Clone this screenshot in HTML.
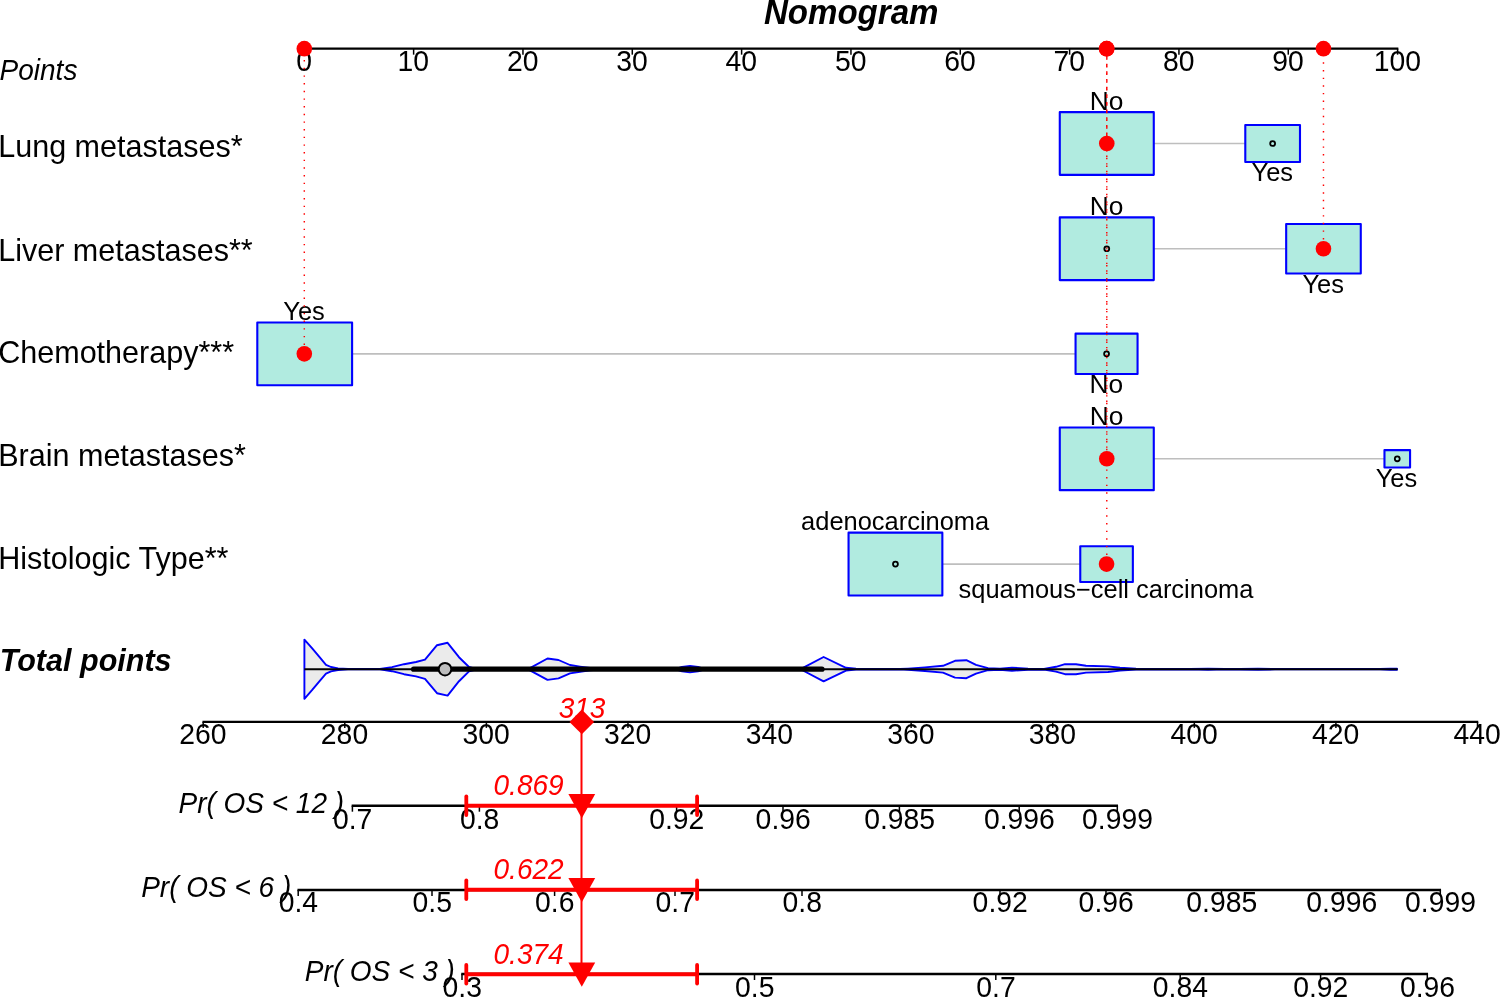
<!DOCTYPE html>
<html lang="en">
<head>
<meta charset="utf-8">
<title>Nomogram</title>
<style>
html,body{margin:0;padding:0;background:#fff;}
body{width:1500px;height:997px;overflow:hidden;font-family:"Liberation Sans", sans-serif;}
svg{display:block;will-change:transform;font-family:"Liberation Sans", sans-serif;}
svg text{font-family:"Liberation Sans", sans-serif;}
</style>
</head>
<body>
<svg width="1500" height="997" viewBox="0 0 1500 997">
<rect x="0" y="0" width="1500" height="997" fill="#ffffff"/>
<text transform="translate(851.20,24.00) rotate(0.02) scale(1.0,1.04)" font-size="33.09" text-anchor="middle" font-style="italic" font-weight="bold" fill="#000">Nomogram</text>
<text transform="translate(-0.40,79.70) rotate(0.02) scale(1.0,1.03)" font-size="28.0" text-anchor="start" font-style="italic" fill="#000">Points</text>
<text transform="translate(-1.80,156.70) rotate(0.02) scale(1.0,1.0)" font-size="30.54" text-anchor="start" fill="#000">Lung metastases*</text>
<text transform="translate(-1.80,260.70) rotate(0.02) scale(1.0,1.0)" font-size="30.54" text-anchor="start" fill="#000">Liver metastases**</text>
<text transform="translate(-1.80,363.40) rotate(0.02) scale(1.0,1.0)" font-size="30.54" text-anchor="start" fill="#000">Chemotherapy***</text>
<text transform="translate(-1.80,465.70) rotate(0.02) scale(1.0,1.0)" font-size="30.54" text-anchor="start" fill="#000">Brain metastases*</text>
<text transform="translate(-1.80,568.80) rotate(0.02) scale(1.0,1.0)" font-size="30.54" text-anchor="start" fill="#000">Histologic Type**</text>
<text transform="translate(-0.30,671.10) rotate(0.02) scale(1.0,1.0)" font-size="30.54" text-anchor="start" font-style="italic" font-weight="bold" fill="#000">Total points</text>
<line x1="303.55" y1="48.67" x2="1398.35" y2="48.67" stroke="#000" stroke-width="2.4" />
<line x1="304.30" y1="48.67" x2="304.30" y2="54.67" stroke="#000" stroke-width="1.5" />
<text transform="translate(304.00,71.22) rotate(0.02) scale(1.012,1.045)" font-size="28.0" text-anchor="middle" fill="#000">0</text>
<line x1="413.63" y1="48.67" x2="413.63" y2="54.67" stroke="#000" stroke-width="1.5" />
<text transform="translate(413.33,71.22) rotate(0.02) scale(1.012,1.045)" font-size="28.0" text-anchor="middle" fill="#000">10</text>
<line x1="522.96" y1="48.67" x2="522.96" y2="54.67" stroke="#000" stroke-width="1.5" />
<text transform="translate(522.66,71.22) rotate(0.02) scale(1.012,1.045)" font-size="28.0" text-anchor="middle" fill="#000">20</text>
<line x1="632.29" y1="48.67" x2="632.29" y2="54.67" stroke="#000" stroke-width="1.5" />
<text transform="translate(631.99,71.22) rotate(0.02) scale(1.012,1.045)" font-size="28.0" text-anchor="middle" fill="#000">30</text>
<line x1="741.62" y1="48.67" x2="741.62" y2="54.67" stroke="#000" stroke-width="1.5" />
<text transform="translate(741.32,71.22) rotate(0.02) scale(1.012,1.045)" font-size="28.0" text-anchor="middle" fill="#000">40</text>
<line x1="850.95" y1="48.67" x2="850.95" y2="54.67" stroke="#000" stroke-width="1.5" />
<text transform="translate(850.65,71.22) rotate(0.02) scale(1.012,1.045)" font-size="28.0" text-anchor="middle" fill="#000">50</text>
<line x1="960.28" y1="48.67" x2="960.28" y2="54.67" stroke="#000" stroke-width="1.5" />
<text transform="translate(959.98,71.22) rotate(0.02) scale(1.012,1.045)" font-size="28.0" text-anchor="middle" fill="#000">60</text>
<line x1="1069.61" y1="48.67" x2="1069.61" y2="54.67" stroke="#000" stroke-width="1.5" />
<text transform="translate(1069.31,71.22) rotate(0.02) scale(1.012,1.045)" font-size="28.0" text-anchor="middle" fill="#000">70</text>
<line x1="1178.94" y1="48.67" x2="1178.94" y2="54.67" stroke="#000" stroke-width="1.5" />
<text transform="translate(1178.64,71.22) rotate(0.02) scale(1.012,1.045)" font-size="28.0" text-anchor="middle" fill="#000">80</text>
<line x1="1288.27" y1="48.67" x2="1288.27" y2="54.67" stroke="#000" stroke-width="1.5" />
<text transform="translate(1287.97,71.22) rotate(0.02) scale(1.012,1.045)" font-size="28.0" text-anchor="middle" fill="#000">90</text>
<line x1="1397.60" y1="48.67" x2="1397.60" y2="54.67" stroke="#000" stroke-width="1.5" />
<text transform="translate(1397.30,71.22) rotate(0.02) scale(1.012,1.045)" font-size="28.0" text-anchor="middle" fill="#000">100</text>
<line x1="1106.78" y1="143.50" x2="1272.64" y2="143.50" stroke="#bebebe" stroke-width="1.6" />
<line x1="1106.78" y1="248.75" x2="1323.47" y2="248.75" stroke="#bebebe" stroke-width="1.6" />
<line x1="304.30" y1="353.85" x2="1106.56" y2="353.85" stroke="#bebebe" stroke-width="1.6" />
<line x1="1106.78" y1="458.80" x2="1397.27" y2="458.80" stroke="#bebebe" stroke-width="1.6" />
<line x1="895.45" y1="564.10" x2="1106.56" y2="564.10" stroke="#bebebe" stroke-width="1.6" />
<rect x="1059.78" y="112.15" width="94.00" height="62.70" fill="#b1ebe0" stroke="#0000ff" stroke-width="2.1" stroke-linejoin="round"/>
<rect x="1245.29" y="125.00" width="54.70" height="37.00" fill="#b1ebe0" stroke="#0000ff" stroke-width="2.1" stroke-linejoin="round"/>
<rect x="1059.78" y="217.40" width="94.00" height="62.70" fill="#b1ebe0" stroke="#0000ff" stroke-width="2.1" stroke-linejoin="round"/>
<rect x="1286.17" y="223.95" width="74.60" height="49.60" fill="#b1ebe0" stroke="#0000ff" stroke-width="2.1" stroke-linejoin="round"/>
<rect x="257.30" y="322.50" width="94.80" height="62.70" fill="#b1ebe0" stroke="#0000ff" stroke-width="2.1" stroke-linejoin="round"/>
<rect x="1075.56" y="333.65" width="62.00" height="40.40" fill="#b1ebe0" stroke="#0000ff" stroke-width="2.1" stroke-linejoin="round"/>
<rect x="1059.78" y="427.45" width="94.00" height="62.70" fill="#b1ebe0" stroke="#0000ff" stroke-width="2.1" stroke-linejoin="round"/>
<rect x="1384.47" y="450.10" width="25.60" height="17.40" fill="#b1ebe0" stroke="#0000ff" stroke-width="2.1" stroke-linejoin="round"/>
<rect x="848.55" y="532.65" width="93.80" height="62.90" fill="#b1ebe0" stroke="#0000ff" stroke-width="2.1" stroke-linejoin="round"/>
<rect x="1080.26" y="546.20" width="52.60" height="35.80" fill="#b1ebe0" stroke="#0000ff" stroke-width="2.1" stroke-linejoin="round"/>
<text transform="translate(1106.48,109.90) rotate(0.02) scale(1.035,1.0)" font-size="25.45" text-anchor="middle" fill="#000">No</text>
<text transform="translate(1272.34,181.05) rotate(0.02) scale(1.0,1.0)" font-size="25.45" text-anchor="middle" fill="#000">Yes</text>
<text transform="translate(1106.48,215.15) rotate(0.02) scale(1.035,1.0)" font-size="25.45" text-anchor="middle" fill="#000">No</text>
<text transform="translate(1323.17,292.60) rotate(0.02) scale(1.0,1.0)" font-size="25.45" text-anchor="middle" fill="#000">Yes</text>
<text transform="translate(304.00,320.25) rotate(0.02) scale(1.0,1.0)" font-size="25.45" text-anchor="middle" fill="#000">Yes</text>
<text transform="translate(1106.26,393.10) rotate(0.02) scale(1.035,1.0)" font-size="25.45" text-anchor="middle" fill="#000">No</text>
<text transform="translate(1106.48,425.20) rotate(0.02) scale(1.035,1.0)" font-size="25.45" text-anchor="middle" fill="#000">No</text>
<text transform="translate(1396.47,486.55) rotate(0.02) scale(1.0,1.0)" font-size="25.45" text-anchor="middle" fill="#000">Yes</text>
<text transform="translate(895.15,530.40) rotate(0.02) scale(1.0,1.0)" font-size="25.45" text-anchor="middle" fill="#000">adenocarcinoma</text>
<text transform="translate(1105.96,597.95) rotate(0.02) scale(1.0,1.0)" font-size="25.45" text-anchor="middle" fill="#000">squamous&#8722;cell carcinoma</text>
<circle cx="1272.64" cy="143.50" r="2.45" fill="none" stroke="#000" stroke-width="1.8"/>
<circle cx="1106.78" cy="248.75" r="2.45" fill="none" stroke="#000" stroke-width="1.8"/>
<circle cx="1106.56" cy="353.85" r="2.45" fill="none" stroke="#000" stroke-width="1.8"/>
<circle cx="1397.27" cy="458.80" r="2.45" fill="none" stroke="#000" stroke-width="1.8"/>
<circle cx="895.45" cy="564.10" r="2.45" fill="none" stroke="#000" stroke-width="1.8"/>
<line x1="304.30" y1="52.46" x2="304.30" y2="353.85" stroke="#ff0000" stroke-width="1.45" stroke-dasharray="1.4 6.260"/>
<line x1="1323.47" y1="54.71" x2="1323.47" y2="248.75" stroke="#ff0000" stroke-width="1.45" stroke-dasharray="1.4 6.240"/>
<line x1="1106.78" y1="56.03" x2="1106.78" y2="564.10" stroke="#ff0000" stroke-width="1.45" stroke-dasharray="1.4 6.255"/>
<line x1="1106.78" y1="50.70" x2="1106.78" y2="458.80" stroke="#ff0000" stroke-width="1.45" stroke-dasharray="1.4 6.255"/>
<line x1="1106.78" y1="49.53" x2="1106.78" y2="143.50" stroke="#ff0000" stroke-width="1.45" stroke-dasharray="1.4 6.255"/>
<circle cx="1106.78" cy="48.67" r="7.8" fill="#ff0000"/>
<circle cx="1106.78" cy="143.50" r="7.8" fill="#ff0000"/>
<circle cx="1106.78" cy="458.80" r="7.8" fill="#ff0000"/>
<circle cx="1323.47" cy="48.67" r="7.8" fill="#ff0000"/>
<circle cx="1323.47" cy="248.75" r="7.8" fill="#ff0000"/>
<circle cx="304.30" cy="48.67" r="7.8" fill="#ff0000"/>
<circle cx="304.30" cy="353.85" r="7.8" fill="#ff0000"/>
<circle cx="1106.56" cy="48.67" r="7.8" fill="#ff0000"/>
<circle cx="1106.56" cy="564.10" r="7.8" fill="#ff0000"/>
<polygon points="304.4,669.20 304.4,639.60 312.0,648.20 320.0,657.70 326.0,664.80 331.0,667.00 338.0,668.40 348.0,669.00 380.0,669.00 392.0,667.20 404.0,664.20 416.0,662.00 425.0,659.60 437.0,645.20 447.6,642.80 459.0,657.20 469.0,667.00 476.0,668.80 520.0,669.00 529.0,668.60 547.5,658.50 558.5,660.00 570.0,665.00 580.0,666.60 590.0,668.00 600.0,668.90 676.0,669.00 682.0,667.00 690.0,666.00 698.0,667.00 704.0,668.90 796.0,669.00 802.0,668.40 823.6,657.00 846.0,667.80 856.0,668.80 900.0,669.00 908.0,668.60 925.0,667.40 943.0,665.80 955.0,660.80 966.4,660.20 976.0,664.80 988.0,668.20 1000.0,668.60 1012.0,667.60 1028.0,668.70 1044.0,668.90 1056.0,666.80 1065.0,664.20 1076.0,664.20 1086.0,665.80 1108.0,666.40 1120.0,667.80 1136.0,668.80 1190.0,669.00 1208.0,668.60 1225.0,669.00 1240.0,668.90 1258.0,668.60 1275.0,669.00 1380.0,669.00 1390.0,668.70 1397.0,668.70 1397.0,669.20 1397.0,669.20 1397.0,669.70 1390.0,669.70 1380.0,669.40 1275.0,669.40 1258.0,669.80 1240.0,669.50 1225.0,669.40 1208.0,669.80 1190.0,669.40 1136.0,669.60 1120.0,670.60 1108.0,672.00 1086.0,672.60 1076.0,674.20 1065.0,674.20 1056.0,671.60 1044.0,669.50 1028.0,669.70 1012.0,670.80 1000.0,669.80 988.0,670.20 976.0,673.60 966.4,678.20 955.0,677.60 943.0,672.60 925.0,671.00 908.0,669.80 900.0,669.40 856.0,669.60 846.0,670.60 823.6,681.40 802.0,670.00 796.0,669.40 704.0,669.50 698.0,671.40 690.0,672.40 682.0,671.40 676.0,669.40 600.0,669.50 590.0,670.40 580.0,671.80 570.0,673.40 558.5,678.40 547.5,679.90 529.0,669.80 520.0,669.40 476.0,669.60 469.0,671.40 459.0,681.20 447.6,695.60 437.0,693.20 425.0,678.80 416.0,676.40 404.0,674.20 392.0,671.20 380.0,669.40 348.0,669.40 338.0,670.00 331.0,671.40 326.0,673.60 320.0,680.70 312.0,690.20 304.4,698.80 304.4,669.20" fill="#ebebeb" stroke="#0000ff" stroke-width="1.9" stroke-linejoin="round"/>
<line x1="304.40" y1="669.20" x2="1397.60" y2="669.20" stroke="#000" stroke-width="2.1" />
<line x1="413.60" y1="669.20" x2="822.00" y2="669.20" stroke="#000" stroke-width="5.2" stroke-linecap="round"/>
<circle cx="445" cy="669.2" r="6.3" fill="#bebebe" stroke="#000" stroke-width="2.0"/>
<line x1="202.45" y1="721.90" x2="1478.25" y2="721.90" stroke="#000" stroke-width="2.4" />
<line x1="203.20" y1="721.90" x2="203.20" y2="727.90" stroke="#000" stroke-width="1.5" />
<text transform="translate(202.90,744.40) rotate(0.02) scale(1.012,1.045)" font-size="28.0" text-anchor="middle" fill="#000">260</text>
<line x1="344.79" y1="721.90" x2="344.79" y2="727.90" stroke="#000" stroke-width="1.5" />
<text transform="translate(344.49,744.40) rotate(0.02) scale(1.012,1.045)" font-size="28.0" text-anchor="middle" fill="#000">280</text>
<line x1="486.38" y1="721.90" x2="486.38" y2="727.90" stroke="#000" stroke-width="1.5" />
<text transform="translate(486.08,744.40) rotate(0.02) scale(1.012,1.045)" font-size="28.0" text-anchor="middle" fill="#000">300</text>
<line x1="627.97" y1="721.90" x2="627.97" y2="727.90" stroke="#000" stroke-width="1.5" />
<text transform="translate(627.67,744.40) rotate(0.02) scale(1.012,1.045)" font-size="28.0" text-anchor="middle" fill="#000">320</text>
<line x1="769.56" y1="721.90" x2="769.56" y2="727.90" stroke="#000" stroke-width="1.5" />
<text transform="translate(769.26,744.40) rotate(0.02) scale(1.012,1.045)" font-size="28.0" text-anchor="middle" fill="#000">340</text>
<line x1="911.14" y1="721.90" x2="911.14" y2="727.90" stroke="#000" stroke-width="1.5" />
<text transform="translate(910.84,744.40) rotate(0.02) scale(1.012,1.045)" font-size="28.0" text-anchor="middle" fill="#000">360</text>
<line x1="1052.73" y1="721.90" x2="1052.73" y2="727.90" stroke="#000" stroke-width="1.5" />
<text transform="translate(1052.43,744.40) rotate(0.02) scale(1.012,1.045)" font-size="28.0" text-anchor="middle" fill="#000">380</text>
<line x1="1194.32" y1="721.90" x2="1194.32" y2="727.90" stroke="#000" stroke-width="1.5" />
<text transform="translate(1194.02,744.40) rotate(0.02) scale(1.012,1.045)" font-size="28.0" text-anchor="middle" fill="#000">400</text>
<line x1="1335.91" y1="721.90" x2="1335.91" y2="727.90" stroke="#000" stroke-width="1.5" />
<text transform="translate(1335.61,744.40) rotate(0.02) scale(1.012,1.045)" font-size="28.0" text-anchor="middle" fill="#000">420</text>
<line x1="1477.50" y1="721.90" x2="1477.50" y2="727.90" stroke="#000" stroke-width="1.5" />
<text transform="translate(1477.20,744.40) rotate(0.02) scale(1.012,1.045)" font-size="28.0" text-anchor="middle" fill="#000">440</text>
<line x1="351.65" y1="805.70" x2="1118.05" y2="805.70" stroke="#000" stroke-width="2.4" />
<line x1="352.40" y1="805.70" x2="352.40" y2="811.70" stroke="#000" stroke-width="1.5" />
<text transform="translate(352.60,828.70) rotate(0.02) scale(1.012,1.045)" font-size="28.0" text-anchor="middle" fill="#000">0.7</text>
<line x1="479.40" y1="805.70" x2="479.40" y2="811.70" stroke="#000" stroke-width="1.5" />
<text transform="translate(479.60,828.70) rotate(0.02) scale(1.012,1.045)" font-size="28.0" text-anchor="middle" fill="#000">0.8</text>
<line x1="676.60" y1="805.70" x2="676.60" y2="811.70" stroke="#000" stroke-width="1.5" />
<text transform="translate(676.80,828.70) rotate(0.02) scale(1.012,1.045)" font-size="28.0" text-anchor="middle" fill="#000">0.92</text>
<line x1="783.00" y1="805.70" x2="783.00" y2="811.70" stroke="#000" stroke-width="1.5" />
<text transform="translate(783.20,828.70) rotate(0.02) scale(1.012,1.045)" font-size="28.0" text-anchor="middle" fill="#000">0.96</text>
<line x1="899.40" y1="805.70" x2="899.40" y2="811.70" stroke="#000" stroke-width="1.5" />
<text transform="translate(899.60,828.70) rotate(0.02) scale(1.012,1.045)" font-size="28.0" text-anchor="middle" fill="#000">0.985</text>
<line x1="1019.20" y1="805.70" x2="1019.20" y2="811.70" stroke="#000" stroke-width="1.5" />
<text transform="translate(1019.40,828.70) rotate(0.02) scale(1.012,1.045)" font-size="28.0" text-anchor="middle" fill="#000">0.996</text>
<line x1="1117.30" y1="805.70" x2="1117.30" y2="811.70" stroke="#000" stroke-width="1.5" />
<text transform="translate(1117.50,828.70) rotate(0.02) scale(1.012,1.045)" font-size="28.0" text-anchor="middle" fill="#000">0.999</text>
<text transform="translate(344.10,813.10) rotate(0.02) scale(1.0,1.04)" font-size="28.0" text-anchor="end" font-style="italic" fill="#000">Pr( OS &lt; 12 )</text>
<line x1="297.45" y1="890.00" x2="1441.05" y2="890.00" stroke="#000" stroke-width="2.4" />
<line x1="298.20" y1="890.00" x2="298.20" y2="896.00" stroke="#000" stroke-width="1.5" />
<text transform="translate(298.40,912.40) rotate(0.02) scale(1.012,1.045)" font-size="28.0" text-anchor="middle" fill="#000">0.4</text>
<line x1="432.00" y1="890.00" x2="432.00" y2="896.00" stroke="#000" stroke-width="1.5" />
<text transform="translate(432.20,912.40) rotate(0.02) scale(1.012,1.045)" font-size="28.0" text-anchor="middle" fill="#000">0.5</text>
<line x1="554.60" y1="890.00" x2="554.60" y2="896.00" stroke="#000" stroke-width="1.5" />
<text transform="translate(554.80,912.40) rotate(0.02) scale(1.012,1.045)" font-size="28.0" text-anchor="middle" fill="#000">0.6</text>
<line x1="675.00" y1="890.00" x2="675.00" y2="896.00" stroke="#000" stroke-width="1.5" />
<text transform="translate(675.20,912.40) rotate(0.02) scale(1.012,1.045)" font-size="28.0" text-anchor="middle" fill="#000">0.7</text>
<line x1="802.00" y1="890.00" x2="802.00" y2="896.00" stroke="#000" stroke-width="1.5" />
<text transform="translate(802.20,912.40) rotate(0.02) scale(1.012,1.045)" font-size="28.0" text-anchor="middle" fill="#000">0.8</text>
<line x1="1000.00" y1="890.00" x2="1000.00" y2="896.00" stroke="#000" stroke-width="1.5" />
<text transform="translate(1000.20,912.40) rotate(0.02) scale(1.012,1.045)" font-size="28.0" text-anchor="middle" fill="#000">0.92</text>
<line x1="1106.00" y1="890.00" x2="1106.00" y2="896.00" stroke="#000" stroke-width="1.5" />
<text transform="translate(1106.20,912.40) rotate(0.02) scale(1.012,1.045)" font-size="28.0" text-anchor="middle" fill="#000">0.96</text>
<line x1="1221.50" y1="890.00" x2="1221.50" y2="896.00" stroke="#000" stroke-width="1.5" />
<text transform="translate(1221.70,912.40) rotate(0.02) scale(1.012,1.045)" font-size="28.0" text-anchor="middle" fill="#000">0.985</text>
<line x1="1341.50" y1="890.00" x2="1341.50" y2="896.00" stroke="#000" stroke-width="1.5" />
<text transform="translate(1341.70,912.40) rotate(0.02) scale(1.012,1.045)" font-size="28.0" text-anchor="middle" fill="#000">0.996</text>
<line x1="1440.30" y1="890.00" x2="1440.30" y2="896.00" stroke="#000" stroke-width="1.5" />
<text transform="translate(1440.50,912.40) rotate(0.02) scale(1.012,1.045)" font-size="28.0" text-anchor="middle" fill="#000">0.999</text>
<text transform="translate(291.20,897.00) rotate(0.02) scale(1.0,1.04)" font-size="28.0" text-anchor="end" font-style="italic" fill="#000">Pr( OS &lt; 6 )</text>
<line x1="461.25" y1="974.00" x2="1428.05" y2="974.00" stroke="#000" stroke-width="2.4" />
<line x1="462.00" y1="974.00" x2="462.00" y2="980.00" stroke="#000" stroke-width="1.5" />
<text transform="translate(462.20,996.70) rotate(0.02) scale(1.012,1.045)" font-size="28.0" text-anchor="middle" fill="#000">0.3</text>
<line x1="754.50" y1="974.00" x2="754.50" y2="980.00" stroke="#000" stroke-width="1.5" />
<text transform="translate(754.70,996.70) rotate(0.02) scale(1.012,1.045)" font-size="28.0" text-anchor="middle" fill="#000">0.5</text>
<line x1="995.80" y1="974.00" x2="995.80" y2="980.00" stroke="#000" stroke-width="1.5" />
<text transform="translate(996.00,996.70) rotate(0.02) scale(1.012,1.045)" font-size="28.0" text-anchor="middle" fill="#000">0.7</text>
<line x1="1180.20" y1="974.00" x2="1180.20" y2="980.00" stroke="#000" stroke-width="1.5" />
<text transform="translate(1180.40,996.70) rotate(0.02) scale(1.012,1.045)" font-size="28.0" text-anchor="middle" fill="#000">0.84</text>
<line x1="1320.60" y1="974.00" x2="1320.60" y2="980.00" stroke="#000" stroke-width="1.5" />
<text transform="translate(1320.80,996.70) rotate(0.02) scale(1.012,1.045)" font-size="28.0" text-anchor="middle" fill="#000">0.92</text>
<line x1="1427.30" y1="974.00" x2="1427.30" y2="980.00" stroke="#000" stroke-width="1.5" />
<text transform="translate(1427.50,996.70) rotate(0.02) scale(1.012,1.045)" font-size="28.0" text-anchor="middle" fill="#000">0.96</text>
<text transform="translate(454.80,980.70) rotate(0.02) scale(1.0,1.04)" font-size="28.0" text-anchor="end" font-style="italic" fill="#000">Pr( OS &lt; 3 )</text>
<line x1="581.50" y1="721.90" x2="581.50" y2="974.00" stroke="#ff0000" stroke-width="2.0" />
<polygon points="569.5,721.9 581.8,709.6 594.0999999999999,721.9 581.8,734.1999999999999" fill="#ff0000"/>
<text transform="translate(582.00,718.20) rotate(0.02) scale(1.0,1.06)" font-size="28.0" text-anchor="middle" font-style="italic" fill="#ff0000">313</text>
<line x1="466.30" y1="805.80" x2="697.10" y2="805.80" stroke="#ff0000" stroke-width="3.9" />
<line x1="466.30" y1="796.50" x2="466.30" y2="815.10" stroke="#ff0000" stroke-width="3.8" stroke-linecap="round"/>
<line x1="697.10" y1="796.50" x2="697.10" y2="815.10" stroke="#ff0000" stroke-width="3.8" stroke-linecap="round"/>
<polygon points="568.4,794.1 595.1999999999999,794.1 581.8,818.2" fill="#ff0000"/>
<text transform="translate(563.60,795.30) rotate(0.02) scale(1.0,1.06)" font-size="28.0" text-anchor="end" font-style="italic" fill="#ff0000">0.869</text>
<line x1="466.30" y1="889.80" x2="697.10" y2="889.80" stroke="#ff0000" stroke-width="3.9" />
<line x1="466.30" y1="880.50" x2="466.30" y2="899.10" stroke="#ff0000" stroke-width="3.8" stroke-linecap="round"/>
<line x1="697.10" y1="880.50" x2="697.10" y2="899.10" stroke="#ff0000" stroke-width="3.8" stroke-linecap="round"/>
<polygon points="568.4,878.0999999999999 595.1999999999999,878.0999999999999 581.8,902.1999999999999" fill="#ff0000"/>
<text transform="translate(563.60,879.30) rotate(0.02) scale(1.0,1.06)" font-size="28.0" text-anchor="end" font-style="italic" fill="#ff0000">0.622</text>
<line x1="466.30" y1="974.30" x2="697.10" y2="974.30" stroke="#ff0000" stroke-width="3.9" />
<line x1="466.30" y1="965.00" x2="466.30" y2="983.60" stroke="#ff0000" stroke-width="3.8" stroke-linecap="round"/>
<line x1="697.10" y1="965.00" x2="697.10" y2="983.60" stroke="#ff0000" stroke-width="3.8" stroke-linecap="round"/>
<polygon points="568.4,962.5999999999999 595.1999999999999,962.5999999999999 581.8,986.6999999999999" fill="#ff0000"/>
<text transform="translate(563.60,963.80) rotate(0.02) scale(1.0,1.06)" font-size="28.0" text-anchor="end" font-style="italic" fill="#ff0000">0.374</text>
</svg>
</body>
</html>
